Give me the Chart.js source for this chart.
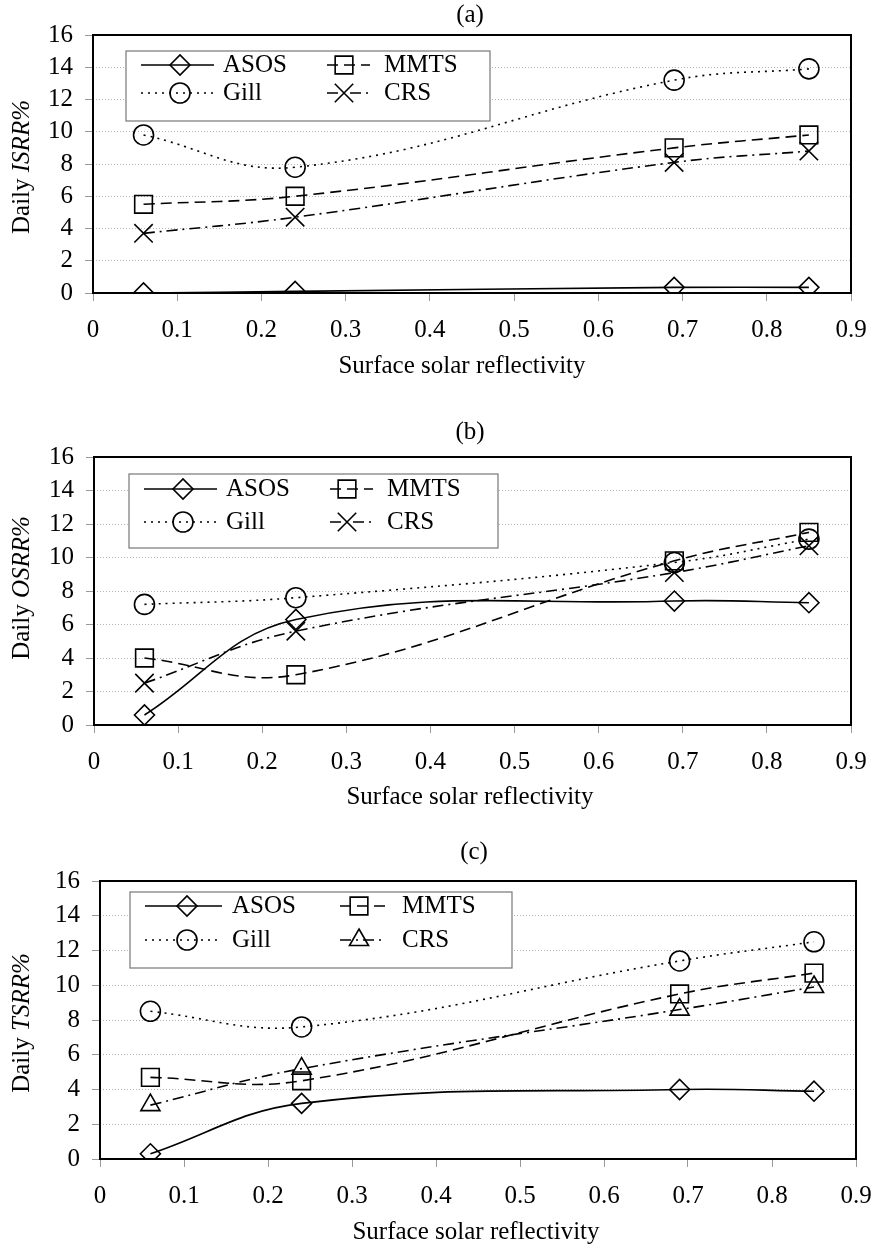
<!DOCTYPE html>
<html>
<head>
<meta charset="utf-8">
<script src="https://cdn.jsdelivr.net/npm/chart.js@4.4.1/dist/chart.umd.min.js"></script>
<style>
  html, body { margin: 0; padding: 0; background: #fff; }
  #hoja { position: relative; width: 875px; height: 1250px; overflow: hidden; }
  canvas { position: absolute; left: 0; }
</style>
</head>
<body>
<div id="hoja">
  <canvas id="panelA" width="875" height="400" style="top:0px"></canvas>
  <canvas id="panelB" width="875" height="420" style="top:400px"></canvas>
  <canvas id="panelC" width="875" height="420" style="top:830px"></canvas>
</div>
<script>
// ── DATOS ─────────────────────────────────────────────
const reflectividad = [0.06, 0.24, 0.69, 0.85];
const xTicks = [0, 0.1, 0.2, 0.3, 0.4, 0.5, 0.6, 0.7, 0.8, 0.9];
const yTicks = [0, 2, 4, 6, 8, 10, 12, 14, 16];

// (a) ISRR
const isrrAsos = [0.0, 0.1, 0.35, 0.35];
const isrrMmts = [5.5, 6.0, 9.0, 9.8];
const isrrGill = [9.8, 7.8, 13.2, 13.9];
const isrrCrs  = [3.7, 4.7, 8.1, 8.8];

// (b) OSRR
const osrrAsos = [0.6, 6.3, 7.4, 7.3];
const osrrMmts = [4.0, 3.0, 9.8, 11.5];
const osrrGill = [7.2, 7.6, 9.7, 11.1];
const osrrCrs  = [2.5, 5.6, 9.1, 10.7];

// (c) TSRR
const tsrrAsos = [0.3, 3.2, 4.0, 3.9];
const tsrrMmts = [4.7, 4.5, 9.5, 10.7];
const tsrrGill = [8.5, 7.6, 11.4, 12.5];
const tsrrCrs  = [3.1, 5.2, 8.6, 9.9];

// ── ESTILOS ───────────────────────────────────────────
const FUENTE = '"Liberation Serif", "Times New Roman", serif';
const estilos = {
    ASOS: { dash: [],            punto: 'rectRot',  r: 10 },
    MMTS: { dash: [11, 6],       punto: 'rect',     r: 12.5 },
    Gill: { dash: [2, 5],        punto: 'circle',   r: 10 },
    CRS:  { dash: [11, 5, 2, 5], punto: 'crossRot', r: 13 },
};

function dataset(nombre, valores, punto) {
    const e = estilos[nombre];
    return {
        label: nombre,
        data: reflectividad.map((x, i) => ({ x, y: valores[i] })),
        showLine: true,
        borderColor: '#000',
        borderWidth: 1.6,
        borderDash: e.dash,
        tension: 0.4,
        pointStyle: punto || e.punto,
        pointRadius: punto === 'triangle' ? 11 : e.r,
        pointBorderColor: '#000',
        pointBackgroundColor: 'rgba(0,0,0,0)',
        pointBorderWidth: 1.6,
    };
}

// ── PLUGIN: marco, títulos y leyenda ──────────────────
const decor = {
    id: 'decor',
    afterDraw(chart, args, o) {
        const { ctx, chartArea: a } = chart;
        ctx.save();
        ctx.setLineDash([]);
        ctx.strokeStyle = '#000';
        ctx.lineWidth = 2;
        ctx.strokeRect(a.left, a.top, a.right - a.left, a.bottom - a.top);

        ctx.fillStyle = '#000';
        ctx.textAlign = 'center';
        ctx.textBaseline = 'middle';
        ctx.font = '25px ' + FUENTE;
        ctx.fillText(o.letra, o.letraX, o.letraY);
        ctx.fillText('Surface solar reflectivity', o.xTitX, o.xTitY);

        // título del eje y: "Daily " + variable en cursiva
        ctx.save();
        ctx.translate(o.yTitX, o.yTitY);
        ctx.rotate(-Math.PI / 2);
        const f1 = '25px ' + FUENTE, f2 = 'italic 25px ' + FUENTE;
        ctx.font = f1; const w1 = ctx.measureText('Daily ').width;
        ctx.font = f2; const w2 = ctx.measureText(o.variable + '%').width;
        ctx.textAlign = 'left';
        ctx.font = f1; ctx.fillText('Daily ', -(w1 + w2) / 2, 0);
        ctx.font = f2; ctx.fillText(o.variable + '%', -(w1 + w2) / 2 + w1, 0);
        ctx.restore();

        // leyenda
        const L = o.leyenda;
        ctx.fillStyle = '#fff';
        ctx.fillRect(L.x, L.y, L.w, L.h);
        ctx.strokeStyle = '#777';
        ctx.lineWidth = 1.2;
        ctx.strokeRect(L.x, L.y, L.w, L.h);
        ctx.font = '25px ' + FUENTE;
        ctx.textAlign = 'left';
        const cols = [L.col1, L.col2];
        chart.data.datasets.forEach((ds, i) => {
            const c = cols[i % 2];
            const y = L.y + L.filas[Math.floor(i / 2)];
            ctx.strokeStyle = '#000';
            ctx.lineWidth = 1.6;
            ctx.setLineDash(ds.borderDash);
            ctx.beginPath();
            ctx.moveTo(L.x + c.l1, y);
            ctx.lineTo(L.x + c.l2, y);
            ctx.stroke();
            ctx.setLineDash([]);
            ctx.fillStyle = 'rgba(0,0,0,0)';
            Chart.helpers.drawPoint(ctx, {
                pointStyle: ds.pointStyle, radius: ds.pointRadius,
                borderWidth: 1.6, rotation: 0
            }, L.x + c.m, y);
            ctx.fillStyle = '#000';
            ctx.fillText(ds.label, L.x + c.t, y);
        });
        ctx.restore();
    }
};

// ── PANELES ───────────────────────────────────────────
function panel(id, canvasTop, geo, datasets, textos) {
    const canvas = document.getElementById(id);
    const H = canvas.height;
    return new Chart(canvas.getContext('2d'), {
        type: 'scatter',
        data: { datasets },
        plugins: [decor],
        options: {
            responsive: false,
            animation: false,
            devicePixelRatio: 1,
            layout: { padding: { top: geo.top - canvasTop, right: 875 - geo.right, left: 0, bottom: 0 } },
            plugins: {
                legend: { display: false },
                tooltip: { enabled: false },
                decor: textos,
            },
            scales: {
                x: {
                    type: 'linear', min: 0, max: 0.9,
                    afterFit: s => {
                        s.height = H - (geo.zero - canvasTop);
                        s.paddingLeft = 0;
                        s.paddingRight = 0;
                    },
                    afterBuildTicks: s => { s.ticks = xTicks.map(v => ({ value: v })); },
                    ticks: {
                        color: '#000', padding: 14, autoSkip: false, maxRotation: 0,
                        font: { family: FUENTE, size: 25 },
                        callback: v => String(Math.round(v * 10) / 10),
                    },
                    grid: { drawOnChartArea: false, tickLength: 8, tickColor: '#999', tickWidth: 1 },
                    border: { display: false },
                },
                y: {
                    min: 0, max: 16,
                    afterFit: s => {
                        s.width = geo.left;
                        s.paddingTop = 0;
                        s.paddingBottom = 0;
                    },
                    afterBuildTicks: s => { s.ticks = yTicks.map(v => ({ value: v })); },
                    ticks: {
                        color: '#000', padding: 12, autoSkip: false,
                        font: { family: FUENTE, size: 25 },
                    },
                    grid: { color: '#b5b5b5', lineWidth: 1, tickLength: 8, tickColor: '#999', tickBorderDash: [] },
                    border: { display: false, dash: [1, 2] },
                },
            },
        },
    });
}

panel('panelA', 0, { top: 35, zero: 293, left: 93, right: 851 },
    [dataset('ASOS', isrrAsos), dataset('MMTS', isrrMmts), dataset('Gill', isrrGill), dataset('CRS', isrrCrs)],
    {
        letra: '(a)', letraX: 470, letraY: 15, xTitX: 462, xTitY: 366, yTitX: 22, yTitY: 167, variable: 'ISRR',
        leyenda: { x: 126, y: 51, w: 364, h: 70, filas: [14, 42],
            col1: { l1: 15, l2: 88, m: 54, t: 97 }, col2: { l1: 201, l2: 244, m: 218, t: 258 } },
    });

panel('panelB', 400, { top: 457, zero: 725, left: 94, right: 851 },
    [dataset('ASOS', osrrAsos), dataset('MMTS', osrrMmts), dataset('Gill', osrrGill), dataset('CRS', osrrCrs)],
    {
        letra: '(b)', letraX: 470, letraY: 432 - 400, xTitX: 470, xTitY: 797 - 400, yTitX: 22, yTitY: 588 - 400, variable: 'OSRR',
        leyenda: { x: 129, y: 474 - 400, w: 369, h: 74, filas: [15, 48],
            col1: { l1: 15, l2: 88, m: 54, t: 97 }, col2: { l1: 201, l2: 244, m: 218, t: 258 } },
    });

panel('panelC', 830, { top: 881, zero: 1159, left: 100, right: 856 },
    [dataset('ASOS', tsrrAsos), dataset('MMTS', tsrrMmts), dataset('Gill', tsrrGill), dataset('CRS', tsrrCrs, 'triangle')],
    {
        letra: '(c)', letraX: 474, letraY: 852 - 830, xTitX: 476, xTitY: 1232 - 830, yTitX: 22, yTitY: 1023 - 830, variable: 'TSRR',
        leyenda: { x: 130, y: 892 - 830, w: 382, h: 76, filas: [14, 48],
            col1: { l1: 15, l2: 92, m: 57, t: 102 }, col2: { l1: 210, l2: 256, m: 229, t: 272 } },
    });
</script>
</body>
</html>
